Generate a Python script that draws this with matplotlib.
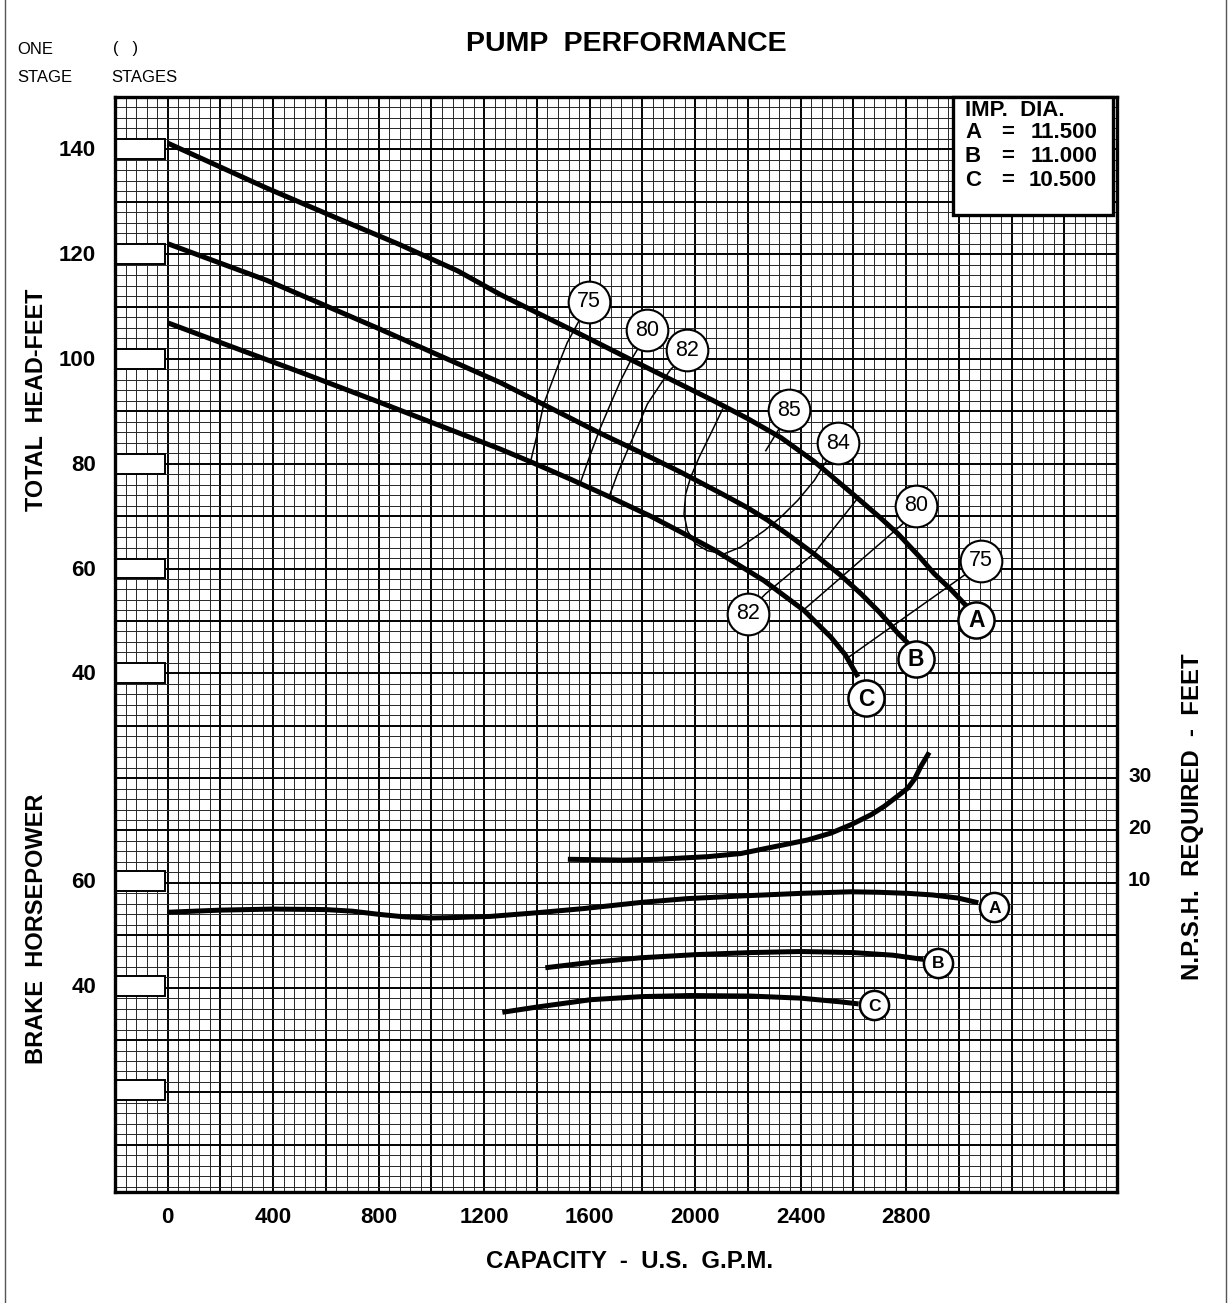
import numpy as np
import matplotlib
matplotlib.use("Agg")
import matplotlib.pyplot as plt
from matplotlib.patches import Rectangle
from matplotlib.lines import Line2D

plt.rcParams['font.family'] = ['Liberation Sans', 'DejaVu Sans']

# head-capacity curves (GPM, ft)
gpm_a = [0, 376, 650, 881, 1100, 1261, 1554, 1767, 2071, 2200, 2325, 2450, 2603, 2700, 2770, 2850, 2907, 2970, 3030]
head_a = [141.2, 132.6, 126.7, 121.8, 116.8, 112.3, 105.0, 99.6, 92.0, 88.6, 85.0, 80.5, 74.0, 69.8, 66.6, 62.3, 59.0, 56.0, 52.8]
gpm_b = [0, 376, 800, 1261, 1641, 1800, 1945, 2100, 2199, 2276, 2360, 2451, 2550, 2629, 2700, 2770, 2808]
head_b = [122.0, 115.0, 105.8, 95.5, 85.8, 82.0, 78.4, 74.3, 71.6, 69.2, 66.2, 62.8, 58.8, 55.2, 51.6, 47.6, 45.7]
gpm_c = [0, 250, 502, 800, 1000, 1261, 1375, 1530, 1679, 1831, 1945, 2071, 2261, 2413, 2515, 2570, 2603, 2618]
head_c = [106.9, 102.2, 97.5, 91.8, 87.9, 82.8, 80.4, 77.0, 73.6, 70.0, 67.0, 63.6, 57.7, 52.0, 46.9, 43.5, 40.6, 39.3]

# efficiency lines (GPM, ft)
eff_lines = {
    '75L': ([1375, 1401, 1426, 1477, 1515, 1559, 1575], [80.2, 85.6, 91.4, 98.3, 103.1, 107.2, 108.5]),
    '80L': ([1565, 1603, 1641, 1679, 1717, 1755, 1781, 1800], [76.4, 81.8, 86.9, 91.4, 95.8, 99.6, 101.8, 103.0]),
    '82L': ([1673, 1705, 1743, 1781, 1819, 1869, 1907, 1950], [73.6, 78.0, 82.5, 86.9, 91.4, 95.2, 98.0, 100.0]),
    '84': ([2104, 2059, 2015, 1983, 1964, 1958, 1971, 2002, 2047, 2110, 2173, 2262, 2325, 2389, 2452, 2490, 2520],
           [90.4, 85.7, 81.2, 77.4, 74.2, 70.4, 67.2, 64.7, 63.4, 62.8, 64.1, 67.2, 69.8, 73.0, 76.8, 79.9, 82.0]),
    '85': ([2268, 2314, 2335], [82.5, 86.3, 88.0]),
    '82R': ([2225, 2268, 2451, 2618], [53.0, 55.2, 62.9, 73.5]),
    '80R': ([2409, 2789, 2815], [52.0, 68.6, 70.0]),
    '75R': ([2580, 3009, 3050], [43.0, 58.3, 59.8]),
}
eff_labels = ['75', '80', '82', '85', '84', '80', '75', '82']
eff_label_gpm = [1597, 1819, 1971, 2357, 2541, 2838, 3085, 2199]
eff_label_head = [110.9, 105.5, 101.7, 90.2, 83.9, 72.0, 61.5, 51.4]

curve_labels = ['A', 'B', 'C']
curve_label_gpm = [3066, 2838, 2648]
curve_label_head = [50.2, 42.8, 35.2]

# NPSH required (GPM, ft)
npsh_gpm = [1527, 1730, 1858, 2047, 2173, 2300, 2427, 2515, 2591, 2667, 2717, 2769, 2807, 2832, 2857, 2883]
npsh_ft = [13.8, 13.65, 13.8, 14.3, 14.9, 16.2, 17.5, 18.8, 20.4, 22.3, 23.9, 25.9, 27.4, 29.1, 31.6, 33.8]

# brake horsepower (GPM, HP)
bhp_a_gpm = [0, 200, 400, 600, 700, 800, 900, 1000, 1100, 1223, 1400, 1578, 1800, 1972, 2173, 2400,
             2591, 2700, 2808, 2900, 2998, 3074]
bhp_a = [54.0, 54.4, 54.6, 54.5, 54.2, 53.6, 53.1, 52.9, 53.0, 53.2, 53.9, 54.7, 55.9, 56.6, 57.1, 57.6,
         57.9, 57.8, 57.6, 57.3, 56.7, 55.8]
bhp_b_gpm = [1432, 1600, 1793, 2000, 2211, 2400, 2600, 2750, 2865]
bhp_b = [43.4, 44.4, 45.3, 45.9, 46.3, 46.5, 46.3, 45.8, 45.0]
bhp_c_gpm = [1269, 1400, 1603, 1800, 1983, 2211, 2400, 2550, 2620]
bhp_c = [34.9, 35.9, 37.3, 37.9, 38.1, 38.0, 37.6, 36.9, 36.5]
bhp_label_gpm = [3135, 2922, 2679]
bhp_label_val = [55.0, 44.4, 36.2]

head_ticks = [140, 120, 100, 80, 60, 40]
bhp_ticks = [60, 40]
bhp_boxes = [60, 40, 20]
npsh_ticks = [30, 20, 10]
gpm_ticks = [0, 400, 800, 1200, 1600, 2000, 2400, 2800]

imp_letters = ['A', 'B', 'C']
imp_dia = ['11.500', '11.000', '10.500']


def bhp_y(v):
    return np.asarray(v) - 59.6


def npsh_y(v):
    return np.asarray(v) - 9.3


W, H = 1230, 1303
fig = plt.figure(figsize=(W / 100, H / 100), dpi=100)
ax = fig.add_axes([115 / W, 1 - 1192 / H, 1002 / W, 1095 / H])
ax.set_xlim(-200, 3600)
ax.set_ylim(-59, 150)

# graph paper
for x in np.arange(-160, 3600, 40):
    major = (x % 200 == 0)
    ax.axvline(x, color='black' if major else '#262626', lw=1.4 if major else 0.7, zorder=1)
for y in np.arange(-58, 150, 2):
    major = (y % 10 == 0)
    ax.axhline(y, color='black' if major else '#262626', lw=1.4 if major else 0.7, zorder=1)
ax.set_xticks([])
ax.set_yticks([])
for s in ax.spines.values():
    s.set_linewidth(2.4)
    s.set_zorder(10)

# label boxes on left edge
for v in list(head_ticks) + list(bhp_y(bhp_boxes)):
    ax.add_patch(Rectangle((-200, v - 1.9), 188, 3.8, facecolor='white',
                           edgecolor='black', lw=1.4, zorder=5))

# head curves
for gx, hy in [(gpm_a, head_a), (gpm_b, head_b), (gpm_c, head_c)]:
    ax.plot(gx, hy, color='black', lw=3.6, solid_capstyle='butt', solid_joinstyle='round', zorder=6)

for key, (gx, hy) in eff_lines.items():
    ax.plot(gx, hy, color='black', lw=1.1, solid_joinstyle='round', zorder=6)

for lab, gx, hy in zip(eff_labels, eff_label_gpm, eff_label_head):
    ax.plot(gx, hy, 'o', ms=30, mfc='white', mec='black', mew=1.5, zorder=8)
    ax.text(gx, hy, lab, ha='center', va='center', fontsize=15.5, zorder=9)

for lab, gx, hy in zip(curve_labels, curve_label_gpm, curve_label_head):
    ax.plot(gx, hy, 'o', ms=26, mfc='white', mec='black', mew=1.8, zorder=8)
    ax.text(gx, hy - 0.2, lab, ha='center', va='center', fontsize=16.5,
            fontweight='bold', zorder=9)

# NPSH curve
ax.plot(npsh_gpm, npsh_y(npsh_ft), color='black', lw=3.6, solid_joinstyle='round', zorder=6)

# BHP curves
for gx, bv in [(bhp_a_gpm, bhp_a), (bhp_b_gpm, bhp_b), (bhp_c_gpm, bhp_c)]:
    ax.plot(gx, bhp_y(bv), color='black', lw=3.6, solid_capstyle='butt', solid_joinstyle='round', zorder=6)
for lab, gx, bv in zip(curve_labels, bhp_label_gpm, bhp_label_val):
    ax.plot(gx, bhp_y(bv), 'o', ms=21, mfc='white', mec='black', mew=1.8, zorder=8)
    ax.text(gx, bhp_y(bv) - 0.2, lab, ha='center', va='center', fontsize=12.5,
            fontweight='bold', zorder=9)

# tick labels
ytr = ax.get_yaxis_transform()
xtr = ax.get_xaxis_transform()
for v in head_ticks:
    ax.text(-0.019, v - 0.3, str(v), transform=ytr, ha='right', va='center',
            fontsize=16, fontweight='bold')
for v in bhp_ticks:
    ax.text(-0.019, bhp_y(v) - 0.3, str(v), transform=ytr, ha='right', va='center',
            fontsize=16, fontweight='bold')
for v in npsh_ticks:
    ax.text(1.011, npsh_y(v) - 0.3, str(v), transform=ytr, ha='left', va='center',
            fontsize=15, fontweight='bold')
for v in gpm_ticks:
    ax.text(v, -0.0237, str(v), transform=xtr, ha='center', va='center',
            fontsize=16, fontweight='bold')


def ft(x, y, s, **kw):
    fig.text(x / W, 1 - y / H, s, **kw)


ft(626, 44, 'PUMP  PERFORMANCE', ha='center', va='center', fontsize=20.5, fontweight='bold')
ft(17, 49, 'ONE', ha='left', va='center', fontsize=12)
ft(17, 77, 'STAGE', ha='left', va='center', fontsize=12)
ft(113, 49, '(   )', ha='left', va='center', fontsize=12)
ft(111, 77, 'STAGES', ha='left', va='center', fontsize=12)
ft(630, 1262, 'CAPACITY  -  U.S.  G.P.M.', ha='center', va='center', fontsize=17.3,
   fontweight='bold')
ft(37, 400, 'TOTAL  HEAD-FEET', ha='center', va='center', rotation=90, fontsize=16.8,
   fontweight='bold')
ft(37, 929, 'BRAKE  HORSEPOWER', ha='center', va='center', rotation=90, fontsize=17,
   fontweight='bold')
ft(1193, 817, 'N.P.S.H.  REQUIRED  -  FEET', ha='center', va='center', rotation=90,
   fontsize=17.3, fontweight='bold')

# impeller diameter box
fig.add_artist(Rectangle((953 / W, 1 - 215 / H), 160 / W, 118 / H, transform=fig.transFigure,
                         facecolor='white', edgecolor='black', lw=2.4, zorder=20))
ft(965, 110, 'IMP.  DIA.', ha='left', va='center', fontsize=16, fontweight='bold', zorder=21)
for i, (l, d) in enumerate(zip(imp_letters, imp_dia)):
    yy = 133 + i * 23.5
    ft(965, yy, l, ha='left', va='center', fontsize=16, fontweight='bold', zorder=21)
    ft(1008, yy, '=', ha='center', va='center', fontsize=16, fontweight='bold', zorder=21)
    ft(1097, yy, d, ha='right', va='center', fontsize=16, fontweight='bold', zorder=21)

# page edges
fig.add_artist(Line2D([5 / W, 5 / W], [0, 1], color='#555555', lw=1.0))
fig.add_artist(Line2D([1226 / W, 1226 / W], [0, 1], color='#555555', lw=1.0))

fig.savefig('out.png', dpi=100, facecolor='white')
